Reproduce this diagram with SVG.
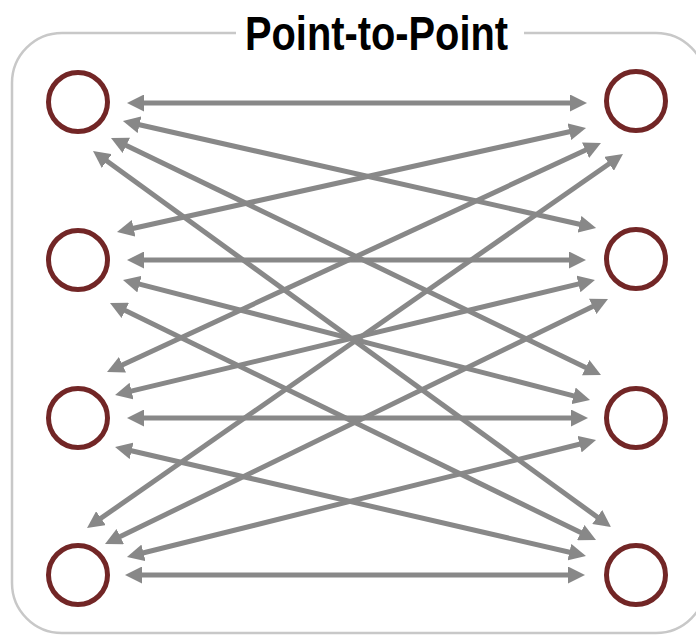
<svg xmlns="http://www.w3.org/2000/svg" width="696" height="635" viewBox="0 0 696 635">
<style>
.frame{fill:none;stroke:#c8c8c8;stroke-width:2.5}
.title{font-family:"Liberation Sans",Arial,sans-serif;font-weight:bold;font-size:48px;fill:#000}
.node{fill:#fff;stroke:#722626;stroke-width:5}
.link{stroke:#888;stroke-width:5;fill:none;marker-start:url(#ah);marker-end:url(#ah)}
</style>
<defs>
<marker id="ah" viewBox="0 -8.5 17 17" refX="8" refY="0" markerWidth="17" markerHeight="17" markerUnits="userSpaceOnUse" orient="auto-start-reverse">
<path d="M0,-8.5 L17,0 L0,8.5 z" fill="#888"/>
</marker>
</defs>
<rect width="696" height="635" fill="#fff"/>
<path class="frame" d="M236,33 H62 A50,50 0 0 0 12,83 V583 A50,50 0 0 0 62,633 H656 A50,50 0 0 0 706,583 V83 A50,50 0 0 0 656,33 H524"/>
<text class="title" x="245" y="50" textLength="263" lengthAdjust="spacingAndGlyphs">Point-to-Point</text>
<g id="connectors">
<line class="link" x1="136" y1="103" x2="578" y2="103"/>
<line class="link" x1="131.7" y1="123" x2="587.3" y2="226"/>
<line class="link" x1="119.1" y1="141.9" x2="592.9" y2="371.1"/>
<line class="link" x1="100.3" y1="156.3" x2="603.7" y2="521.7"/>
<line class="link" x1="125.8" y1="230" x2="577.2" y2="130"/>
<line class="link" x1="136" y1="260" x2="577" y2="260"/>
<line class="link" x1="131.7" y1="282.2" x2="581.3" y2="397.8"/>
<line class="link" x1="118.1" y1="306.9" x2="587.9" y2="536.1"/>
<line class="link" x1="115.2" y1="368.2" x2="592.8" y2="146.8"/>
<line class="link" x1="123.8" y1="392.9" x2="586.2" y2="282.1"/>
<line class="link" x1="136" y1="418" x2="579" y2="418"/>
<line class="link" x1="123.8" y1="449" x2="577.2" y2="554"/>
<line class="link" x1="94.4" y1="522.8" x2="615.6" y2="159.2"/>
<line class="link" x1="113.1" y1="540.1" x2="599.9" y2="302.9"/>
<line class="link" x1="135.7" y1="554.8" x2="587.3" y2="442.2"/>
<line class="link" x1="134" y1="575" x2="576" y2="575"/>
</g>
<g id="L1"><circle class="node" cx="78" cy="102" r="29.5"/></g>
<g id="L2"><circle class="node" cx="78" cy="260" r="29.5"/></g>
<g id="L3"><circle class="node" cx="78" cy="418" r="29.5"/></g>
<g id="L4"><circle class="node" cx="78" cy="575" r="29.5"/></g>
<g id="R1"><circle class="node" cx="636" cy="101" r="29.5"/></g>
<g id="R2"><circle class="node" cx="636" cy="259" r="29.5"/></g>
<g id="R3"><circle class="node" cx="636" cy="418" r="29.5"/></g>
<g id="R4"><circle class="node" cx="636" cy="575" r="29.5"/></g>
</svg>
